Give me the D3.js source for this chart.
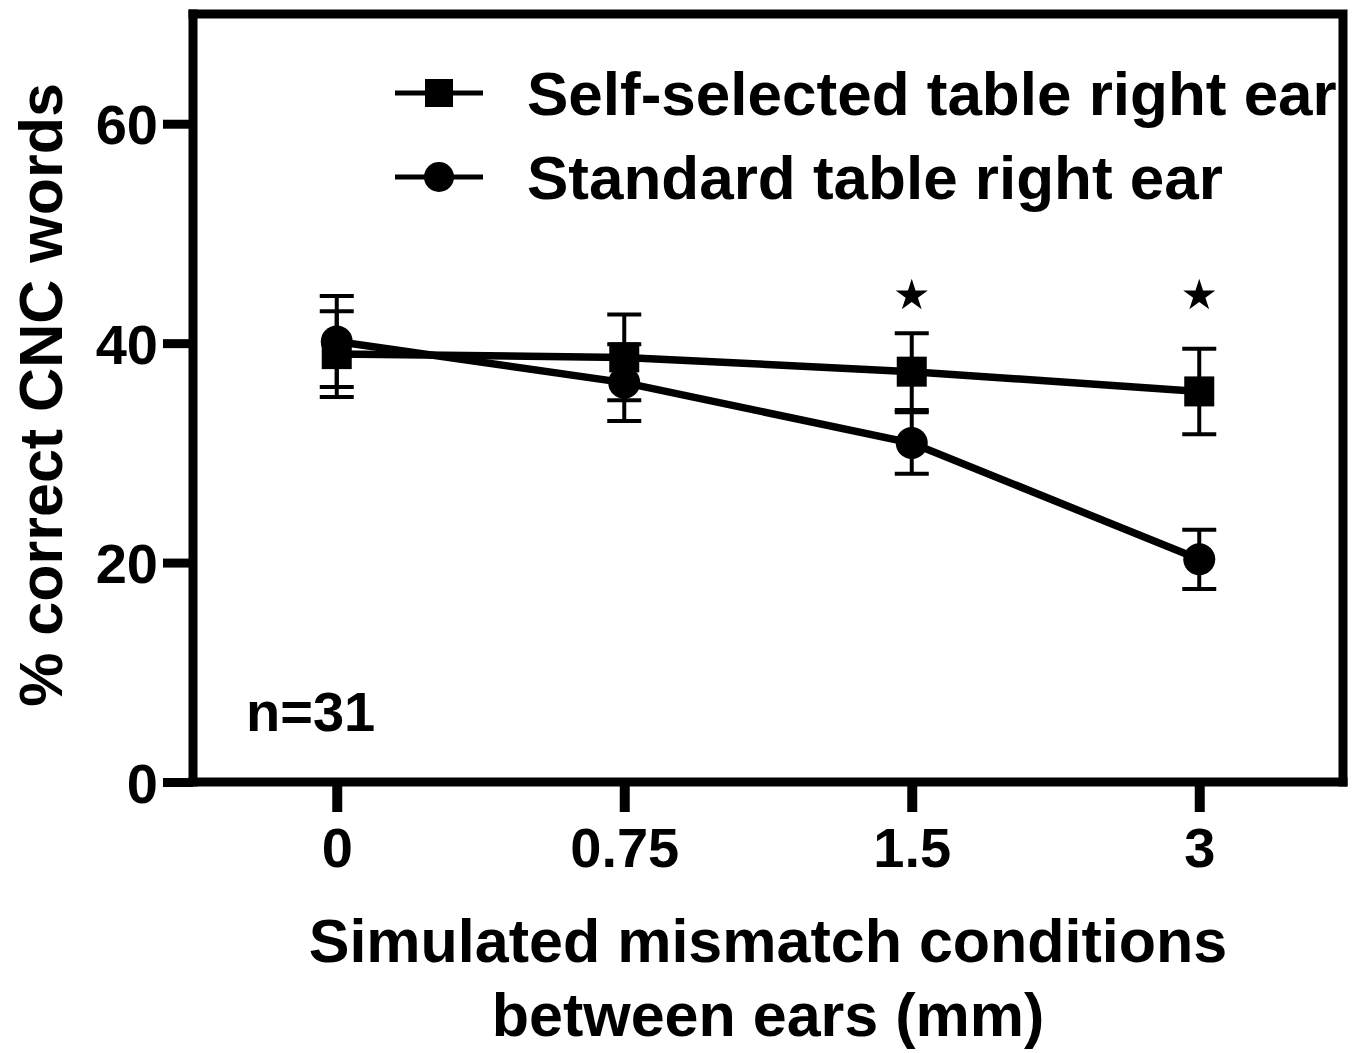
<!DOCTYPE html>
<html>
<head>
<meta charset="utf-8">
<script src="https://cdn.jsdelivr.net/npm/d3@7"></script>
<style>
  html, body { margin: 0; padding: 0; background: #fff; }
  svg { display: block; }
  text { font-family: "Liberation Sans", Arial, Helvetica, sans-serif; font-weight: bold; fill: #000; }
</style>
</head>
<body>
<svg id="chart" width="1357" height="1053"></svg>
<script>
// ---- data ----
const categories = ["0", "0.75", "1.5", "3"];
const selfSelected = [39.0, 38.7, 37.4, 35.6];
const selfSelectedErr = [3.9, 3.9, 3.5, 3.9];
const standard = [40.15, 36.4, 30.9, 20.3];
const standardErr = [4.15, 3.5, 2.8, 2.7];
const significant = ["1.5", "3"];
const yTicks = [0, 20, 40, 60];
const seriesNames = ["Self-selected table right ear", "Standard table right ear"];
const xTitleLines = ["Simulated mismatch conditions", "between ears (mm)"];
const yTitle = "% correct CNC words";
const annotation = "n=31";

(function () {
// ---- layout ----
const svg = d3.select("#chart");
const pL = 193, pR = 1343, pT = 14, pB = 782;
const x = d3.scalePoint().domain(categories).range([pL, pR]).padding(0.5);
const y = d3.scaleLinear().domain([0, 70]).range([pB, pT]);

// frame (top & right)
svg.append("path")
  .attr("d", `M${pL},${pT}H${pR}V${pB}`)
  .attr("fill", "none").attr("stroke", "#000").attr("stroke-width", 9)
  .attr("stroke-linejoin", "miter").attr("stroke-linecap", "square");

// y axis
const yAxis = svg.append("g").attr("transform", `translate(${pL},0)`)
  .call(d3.axisLeft(y).tickValues(yTicks).tickSize(30).tickPadding(6).tickFormat(d3.format("d")));
yAxis.select(".domain").attr("stroke-width", 9).attr("d", `M0,${pB + 4.5}V${pT - 4.5}`);
yAxis.selectAll(".tick line").attr("stroke-width", 9);
yAxis.selectAll(".tick text").attr("font-size", 56).attr("dy", "0.36em").attr("x", -35);

// x axis
const xAxis = svg.append("g").attr("transform", `translate(0,${pB})`)
  .call(d3.axisBottom(x).tickSize(30).tickPadding(6));
xAxis.select(".domain").attr("stroke-width", 9).attr("d", `M${pL - 4.5},0H${pR + 4.5}`);
xAxis.selectAll(".tick line").attr("stroke-width", 10);
xAxis.selectAll(".tick text").attr("font-size", 56).attr("dy", null).attr("y", 85);

// axis titles
svg.append("g").selectAll("text").data(xTitleLines).join("text")
  .attr("x", 768).attr("y", (d, i) => 962 + i * 74)
  .attr("text-anchor", "middle").attr("font-size", 61).text(d => d);
svg.append("text")
  .attr("transform", "translate(62,395) rotate(-90)")
  .attr("text-anchor", "middle").attr("font-size", 61).text(yTitle);

// annotation
svg.append("text").attr("x", 246).attr("y", 731).attr("font-size", 56).text(annotation);

// series
const series = [
  { name: seriesNames[0], vals: selfSelected, err: selfSelectedErr, shape: "square" },
  { name: seriesNames[1], vals: standard, err: standardErr, shape: "circle" }
];
const line = d3.line().x((d, i) => x(categories[i])).y(d => y(d));
const capW = 34;

series.forEach(s => {
  const g = svg.append("g");
  const eb = g.append("g").selectAll("g").data(s.vals.map((v, i) => ({ c: categories[i], v, e: s.err[i] }))).join("g");
  eb.append("line").attr("x1", d => x(d.c)).attr("x2", d => x(d.c))
    .attr("y1", d => y(d.v + d.e)).attr("y2", d => y(d.v - d.e))
    .attr("stroke", "#000").attr("stroke-width", 4);
  eb.append("line").attr("x1", d => x(d.c) - capW / 2).attr("x2", d => x(d.c) + capW / 2)
    .attr("y1", d => y(d.v + d.e)).attr("y2", d => y(d.v + d.e))
    .attr("stroke", "#000").attr("stroke-width", 4);
  eb.append("line").attr("x1", d => x(d.c) - capW / 2).attr("x2", d => x(d.c) + capW / 2)
    .attr("y1", d => y(d.v - d.e)).attr("y2", d => y(d.v - d.e))
    .attr("stroke", "#000").attr("stroke-width", 4);
  g.append("path").datum(s.vals).attr("d", line)
    .attr("fill", "none").attr("stroke", "#000").attr("stroke-width", 7.5);
  if (s.shape === "square") {
    g.selectAll("rect").data(s.vals).join("rect")
      .attr("x", (d, i) => x(categories[i]) - 15).attr("y", d => y(d) - 15)
      .attr("width", 30).attr("height", 30).attr("fill", "#000");
  } else {
    g.selectAll("circle").data(s.vals).join("circle")
      .attr("cx", (d, i) => x(categories[i])).attr("cy", d => y(d))
      .attr("r", 16).attr("fill", "#000");
  }
});

// significance stars
svg.append("g").selectAll("path").data(significant).join("path")
  .attr("d", d3.symbol(d3.symbolStar, 320))
  .attr("transform", d => `translate(${x(d)},${y(44.6) + 3})`)
  .attr("fill", "#000");

// legend
const lg = svg.append("g").selectAll("g").data(series).join("g")
  .attr("transform", (d, i) => `translate(0,${93 + i * 84})`);
lg.append("line").attr("x1", 395).attr("x2", 483).attr("y1", 0).attr("y2", 0)
  .attr("stroke", "#000").attr("stroke-width", 5);
lg.each(function (d) {
  const gg = d3.select(this);
  if (d.shape === "square") {
    gg.append("rect").attr("x", 439 - 14).attr("y", -14).attr("width", 28).attr("height", 28).attr("fill", "#000");
  } else {
    gg.append("circle").attr("cx", 439).attr("cy", 0).attr("r", 15).attr("fill", "#000");
  }
});
lg.append("text").attr("x", 527).attr("y", 22).attr("font-size", 62).text(d => d.name);
})();
</script>
</body>
</html>
